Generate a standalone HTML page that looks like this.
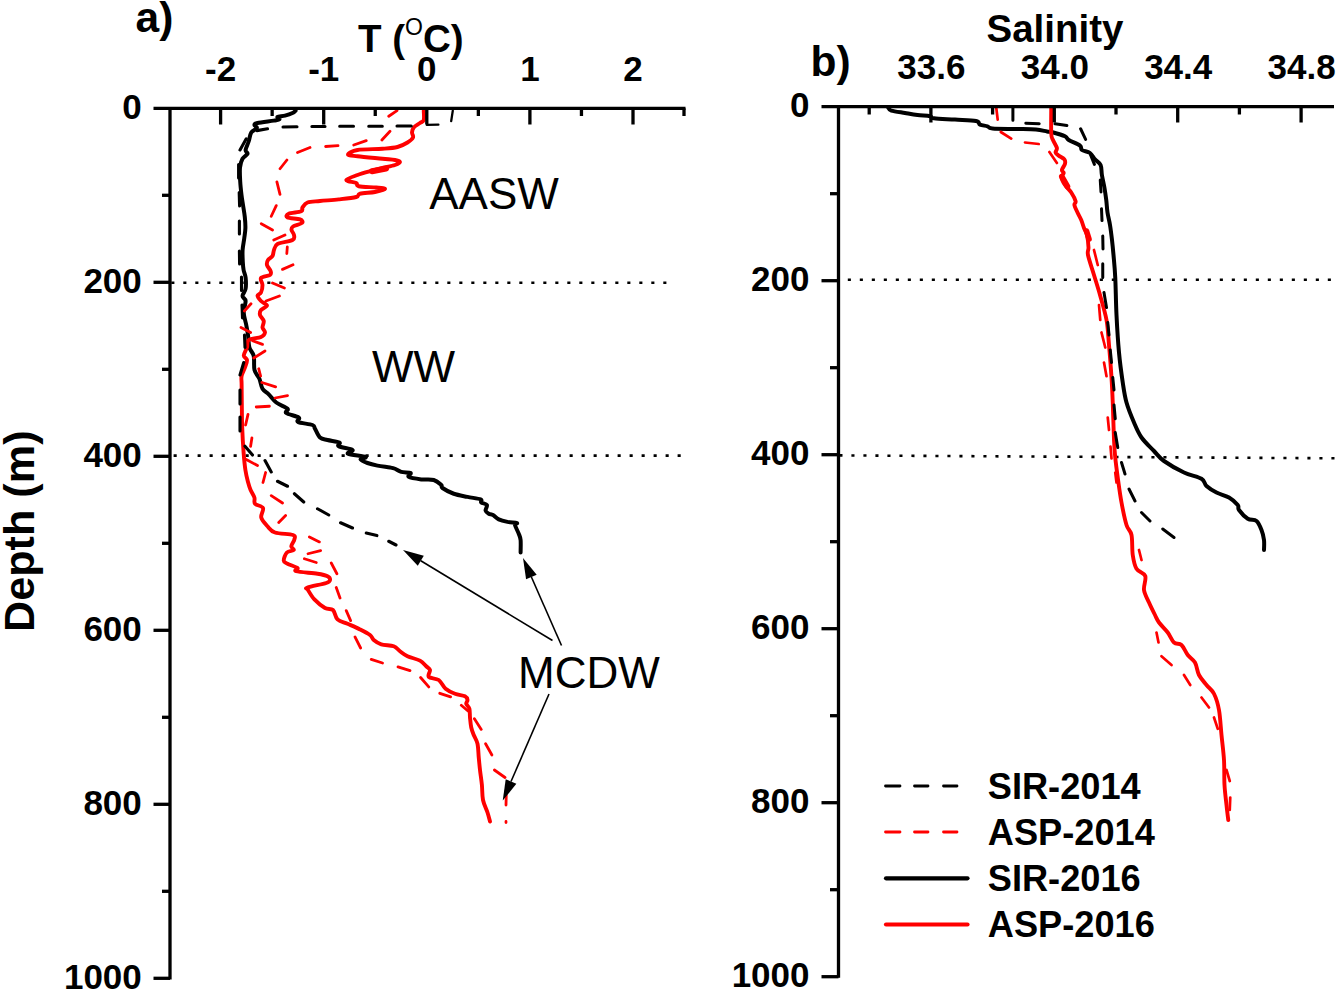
<!DOCTYPE html>
<html><head><meta charset="utf-8"><title>Profiles</title>
<style>html,body{margin:0;padding:0;background:#fff;}svg{display:block;font-family:"Liberation Sans",sans-serif;}.b{font-weight:bold;}</style></head><body>
<svg width="1338" height="992" viewBox="0 0 1338 992">
<rect width="1338" height="992" fill="#fff"/>
<g stroke="#000" stroke-width="2.6" fill="none" stroke-dasharray="3.1 8.9">
<path d="M171.3 282.7 H667"/>
<path d="M173.6 455.6 H681.2"/>
<path d="M847.8 279.8 H1331.3"/>
<path d="M839.4 455.4 L1335 458.3"/>
</g>
<path d="M295.60 110.60C295.08 111.00 294.27 112.17 292.50 113.00C290.73 113.83 287.50 114.93 285.00 115.60C282.50 116.27 278.43 116.37 277.50 117.00C276.57 117.63 280.02 118.80 279.40 119.40C278.77 120.00 277.40 120.00 273.75 120.60C270.10 121.20 260.73 122.27 257.50 123.00C254.28 123.73 254.50 124.17 254.40 125.00C254.30 125.83 257.42 126.75 256.90 128.00C256.38 129.25 252.61 130.29 251.25 132.50C249.89 134.71 249.69 138.33 248.75 141.25C247.81 144.17 245.81 147.92 245.60 150.00C245.39 152.08 248.02 152.29 247.50 153.75C246.98 155.21 243.75 156.46 242.50 158.75C241.25 161.04 240.38 163.75 240.00 167.50C239.62 171.25 239.95 176.67 240.20 181.25C240.45 185.83 241.03 191.04 241.50 195.00C241.97 198.96 242.45 201.33 243.00 205.00C243.55 208.67 244.40 213.17 244.80 217.00C245.20 220.83 245.48 224.50 245.40 228.00C245.32 231.50 244.77 234.33 244.30 238.00C243.83 241.67 242.85 246.00 242.60 250.00C242.35 254.00 242.63 258.67 242.80 262.00C242.97 265.33 243.13 267.42 243.60 270.00C244.07 272.58 245.27 274.38 245.60 277.50C245.93 280.62 246.12 285.67 245.60 288.75C245.08 291.83 242.50 293.96 242.50 296.00C242.50 298.04 245.39 298.25 245.60 301.00C245.81 303.75 243.64 308.50 243.75 312.50C243.86 316.50 245.54 321.25 246.25 325.00C246.96 328.75 247.47 331.25 248.00 335.00C248.53 338.75 248.44 344.00 249.40 347.50C250.36 351.00 252.90 352.25 253.75 356.00C254.60 359.75 253.56 366.21 254.50 370.00C255.44 373.79 258.07 375.62 259.40 378.75C260.73 381.88 260.94 386.14 262.50 388.75C264.06 391.36 266.46 392.11 268.75 394.40C271.04 396.69 273.12 400.11 276.25 402.50C279.38 404.89 285.83 407.00 287.50 408.75C289.17 410.50 284.38 411.54 286.25 413.00C288.12 414.46 296.79 416.00 298.75 417.50C300.71 419.00 295.71 420.75 298.00 422.00C300.29 423.25 309.67 423.88 312.50 425.00C315.33 426.12 313.75 426.67 315.00 428.75C316.25 430.83 317.92 435.62 320.00 437.50C322.08 439.38 324.27 439.17 327.50 440.00C330.73 440.83 337.52 441.46 339.40 442.50C341.27 443.54 336.57 445.00 338.75 446.25C340.93 447.50 350.96 448.75 352.50 450.00C354.04 451.25 345.82 452.60 348.00 453.75C350.18 454.90 363.50 455.96 365.60 456.90C367.70 457.84 360.28 458.38 360.60 459.40C360.92 460.42 364.68 461.97 367.50 463.00C370.32 464.03 373.75 464.85 377.50 465.60C381.25 466.35 387.08 466.98 390.00 467.50C392.92 468.02 393.12 468.02 395.00 468.75C396.88 469.48 398.65 471.19 401.25 471.90C403.85 472.61 409.35 472.17 410.60 473.00C411.85 473.83 406.98 475.83 408.75 476.90C410.52 477.97 417.08 478.88 421.25 479.40C425.42 479.92 430.42 479.07 433.75 480.00C437.08 480.93 439.79 483.67 441.25 485.00C442.71 486.33 440.42 486.54 442.50 488.00C444.58 489.46 449.58 492.27 453.75 493.75C457.92 495.23 463.02 495.96 467.50 496.90C471.98 497.84 478.31 498.47 480.60 499.40C482.89 500.33 480.20 501.57 481.25 502.50C482.30 503.43 486.17 503.65 486.90 505.00C487.62 506.35 485.29 509.14 485.60 510.60C485.91 512.06 487.52 513.02 488.75 513.75C489.98 514.48 491.33 514.06 493.00 515.00C494.67 515.94 496.33 518.25 498.75 519.40C501.17 520.55 504.48 521.30 507.50 521.90C510.52 522.50 515.65 522.48 516.90 523.00C518.15 523.52 514.69 523.21 515.00 525.00C515.31 526.79 517.82 531.25 518.75 533.75C519.68 536.25 520.29 536.88 520.60 540.00C520.91 543.12 520.60 550.42 520.60 552.50" fill="none" stroke="#000" stroke-width="4.0" stroke-linejoin="round" stroke-linecap="round" />
<path d="M423.75 110.60C423.75 112.17 424.38 117.93 423.75 120.00C423.12 122.07 421.67 121.75 420.00 123.00C418.33 124.25 415.08 125.92 413.75 127.50C412.42 129.08 412.12 130.83 412.00 132.50C411.88 134.17 413.75 135.83 413.00 137.50C412.25 139.17 410.08 140.92 407.50 142.50C404.92 144.08 401.67 145.96 397.50 147.00C393.33 148.04 389.17 148.25 382.50 148.75C375.83 149.25 363.25 149.06 357.50 150.00C351.75 150.94 348.00 153.36 348.00 154.40C348.00 155.44 351.75 155.53 357.50 156.25C363.25 156.97 376.25 158.12 382.50 158.75C388.75 159.38 392.08 159.46 395.00 160.00C397.92 160.54 400.00 161.17 400.00 162.00C400.00 162.83 397.92 164.00 395.00 165.00C392.08 166.00 386.25 167.07 382.50 168.00C378.75 168.93 376.67 169.43 372.50 170.60C368.33 171.77 361.88 173.43 357.50 175.00C353.12 176.57 346.46 178.67 346.25 180.00C346.04 181.33 354.17 181.96 356.25 183.00C358.33 184.04 355.42 185.50 358.75 186.25C362.08 187.00 371.88 187.04 376.25 187.50C380.62 187.96 385.21 188.25 385.00 189.00C384.79 189.75 379.17 191.21 375.00 192.00C370.83 192.79 363.12 192.92 360.00 193.75C356.88 194.58 359.79 196.06 356.25 197.00C352.71 197.94 344.79 198.73 338.75 199.40C332.71 200.07 325.21 200.48 320.00 201.00C314.79 201.52 310.42 201.42 307.50 202.50C304.58 203.58 303.54 206.04 302.50 207.50C301.46 208.96 303.54 210.21 301.25 211.25C298.96 212.29 291.04 212.71 288.75 213.75C286.46 214.79 285.62 216.56 287.50 217.50C289.38 218.44 297.58 218.48 300.00 219.40C302.42 220.32 303.17 221.82 302.00 223.00C300.83 224.18 294.75 225.33 293.00 226.50C291.25 227.67 291.33 228.58 291.50 230.00C291.67 231.42 293.83 233.33 294.00 235.00C294.17 236.67 295.25 238.50 292.50 240.00C289.75 241.50 280.58 242.33 277.50 244.00C274.42 245.67 274.83 248.00 274.00 250.00C273.17 252.00 273.50 254.33 272.50 256.00C271.50 257.67 268.92 258.50 268.00 260.00C267.08 261.50 266.57 263.17 267.00 265.00C267.43 266.83 270.10 269.33 270.60 271.00C271.10 272.67 271.60 273.83 270.00 275.00C268.40 276.17 262.25 276.33 261.00 278.00C259.75 279.67 262.50 282.58 262.50 285.00C262.50 287.42 261.83 290.73 261.00 292.50C260.17 294.27 257.50 294.18 257.50 295.60C257.50 297.02 259.42 299.33 261.00 301.00C262.58 302.67 267.00 304.10 267.00 305.60C267.00 307.10 262.17 308.43 261.00 310.00C259.83 311.57 259.54 313.17 260.00 315.00C260.46 316.83 263.33 318.92 263.75 321.00C264.17 323.08 262.29 325.58 262.50 327.50C262.71 329.42 265.25 330.92 265.00 332.50C264.75 334.08 263.71 335.75 261.00 337.00C258.29 338.25 251.08 338.25 248.75 340.00C246.42 341.75 247.83 344.90 247.00 347.50C246.17 350.10 243.75 353.52 243.75 355.60C243.75 357.68 246.79 358.02 247.00 360.00C247.21 361.98 245.90 364.83 245.00 367.50C244.10 370.17 242.17 373.29 241.60 376.00C241.03 378.71 241.57 379.33 241.60 383.75C241.63 388.17 241.70 395.21 241.80 402.50C241.90 409.79 241.90 419.17 242.20 427.50C242.50 435.83 243.07 445.42 243.60 452.50C244.13 459.58 244.67 465.08 245.40 470.00C246.13 474.92 247.13 478.67 248.00 482.00C248.87 485.33 249.53 487.42 250.60 490.00C251.67 492.58 253.67 495.21 254.40 497.50C255.13 499.79 253.57 502.00 255.00 503.75C256.43 505.50 261.96 505.71 263.00 508.00C264.04 510.29 260.50 514.46 261.25 517.50C262.00 520.54 265.21 523.75 267.50 526.25C269.79 528.75 270.75 531.04 275.00 532.50C279.25 533.96 289.77 533.85 293.00 535.00C296.23 536.15 294.69 537.52 294.40 539.40C294.11 541.27 291.36 544.48 291.25 546.25C291.14 548.02 294.48 548.96 293.75 550.00C293.02 551.04 288.57 550.73 286.90 552.50C285.23 554.27 283.65 558.73 283.75 560.60C283.85 562.48 285.21 562.52 287.50 563.75C289.79 564.98 296.04 566.75 297.50 568.00C298.96 569.25 292.92 570.29 296.25 571.25C299.58 572.21 312.29 572.92 317.50 573.75C322.71 574.58 325.42 575.21 327.50 576.25C329.58 577.29 330.21 578.88 330.00 580.00C329.79 581.12 330.00 581.75 326.25 583.00C322.50 584.25 310.54 586.33 307.50 587.50C304.46 588.67 306.85 588.02 308.00 590.00C309.15 591.98 311.57 596.40 314.40 599.40C317.23 602.40 321.90 606.23 325.00 608.00C328.10 609.77 330.92 608.10 333.00 610.00C335.08 611.90 335.08 617.11 337.50 619.40C339.92 621.69 343.75 622.08 347.50 623.75C351.25 625.42 356.25 627.52 360.00 629.40C363.75 631.27 367.71 633.23 370.00 635.00C372.29 636.77 371.88 638.43 373.75 640.00C375.62 641.57 377.92 643.36 381.25 644.40C384.58 645.44 390.62 645.11 393.75 646.25C396.88 647.39 397.71 649.58 400.00 651.25C402.29 652.92 404.17 654.69 407.50 656.25C410.83 657.81 416.88 658.93 420.00 660.60C423.12 662.27 424.58 664.68 426.25 666.25C427.92 667.82 429.58 668.23 430.00 670.00C430.42 671.77 427.29 675.23 428.75 676.90C430.21 678.57 435.94 678.02 438.75 680.00C441.56 681.98 442.89 686.46 445.60 688.75C448.31 691.04 451.77 692.50 455.00 693.75C458.23 695.00 462.92 695.21 465.00 696.25C467.08 697.29 467.29 698.75 467.50 700.00C467.71 701.25 465.93 702.29 466.25 703.75C466.57 705.21 468.77 706.46 469.40 708.75C470.02 711.04 469.69 714.38 470.00 717.50C470.31 720.62 470.62 724.58 471.25 727.50C471.88 730.42 472.71 732.29 473.75 735.00C474.79 737.71 476.67 740.00 477.50 743.75C478.33 747.50 478.33 753.12 478.75 757.50C479.17 761.88 479.48 765.42 480.00 770.00C480.52 774.58 481.40 780.00 481.90 785.00C482.40 790.00 482.07 795.42 483.00 800.00C483.93 804.58 486.33 808.92 487.50 812.50C488.67 816.08 489.58 820.00 490.00 821.50" fill="none" stroke="#ff0000" stroke-width="3.9" stroke-linejoin="round" stroke-linecap="round" />
<path d="M372 171.2 L386 168.6" fill="none" stroke="#ff0000" stroke-width="6" stroke-linejoin="round" stroke-linecap="round" />
<path d="M411.25 126L397 126 M382.3 126.2L368.75 126.2 M353.5 126.3L339.7 126.3 M325 126.5L311.9 126.5 M297 126.8L283 127 M267.5 128.75L256.9 130.6 M246.25 138.75L240 150 M238.6 164.5L238.6 178 M239.2 192.5L239.6 206 M239.4 221L239.4 234 M239.4 251L239.6 264 M241.5 277L241.5 290.5 M242 305L242.5 318 M244.5 335L245 347.5 M243.75 362.5L240 375 M240 390L240 404 M240 417L240 431 M245 446.25L252.5 455 M265 460.6L271.25 472 M277.5 481.25L287.5 486.25 M294.4 493.75L303.75 502 M317.5 508.75L328.75 515 M340.6 522.75L352.5 528 M366.25 533L376.9 535.6 M388.75 541.25L396 545" fill="none" stroke="#000" stroke-width="3.1" stroke-linecap="round"/>
<path d="M452.8 110.6L451.2 121.2 M438.4 124.7L426.8 124.9" fill="none" stroke="#000" stroke-width="2.3" stroke-linecap="round"/>
<path d="M397 110.6L388.75 116.25 M390 131.25L381.9 140 M366.25 140.6L353.75 145 M338 145.6L325.6 146.5 M310 147.5L297.5 152.5 M286.9 160L280 168.75 M276.9 181.9L280 194.4 M276.25 205.6L271.25 216.25 M261.25 223.75L272.5 230 M285 235L273.75 240 M287.3 247L286.8 253.5 M293 264.75L282.5 269.4 M272.5 283L284.4 288 M279.4 296L266 301 M251 303.75L244.4 311 M241 327.5L250.6 332.5 M252.5 340.6L262.5 344.4 M265 351L253.75 358 M258.75 368.75L260.6 376 M261.9 382.5L275.6 386.9 M287.5 395.6L275 398 M269.4 406.25L256.25 407 M248 414.4L245.6 425 M251.9 438L250.6 446.25 M246.25 459.4L257.5 465.6 M265.6 472.5L263 482.5 M271.25 495.6L282.5 503 M285.6 515.6L278.75 522.5 M309.4 536.9L319.4 541.9 M320.6 550.6L308 553.75 M304.4 558.75L316.25 562.5 M331.25 563L336.9 573.75 M336.25 587.5L340 598 M346.25 610.6L350.6 620.6 M355 636.9L360.6 648 M371.25 659.4L382.5 663 M398 666.9L410 670.6 M420.6 677.5L428.75 686.9 M439.8 693.3L450.6 696.9 M461.25 705.3L468 711 M474.4 718.75L481.25 729.4 M485.6 743.75L491.9 755 M494.4 770L505 777.5 M506.25 795L506 805 M506 821.5L506 822.5" fill="none" stroke="#ff0000" stroke-width="2.8" stroke-linecap="round"/>
<path d="M888.30 107.80C888.80 108.27 888.52 109.73 891.30 110.60C894.08 111.47 900.63 112.27 905.00 113.00C909.37 113.73 913.33 114.47 917.50 115.00C921.67 115.53 927.25 115.65 930.00 116.20C932.75 116.75 929.83 117.73 934.00 118.30C938.17 118.87 948.00 119.15 955.00 119.60C962.00 120.05 971.83 120.17 976.00 121.00C980.17 121.83 978.08 123.72 980.00 124.60C981.92 125.48 985.42 125.65 987.50 126.30C989.58 126.95 987.50 128.05 992.50 128.50C997.50 128.95 1010.25 128.82 1017.50 129.00C1024.75 129.18 1031.08 129.20 1036.00 129.60C1040.92 130.00 1044.25 130.97 1047.00 131.40C1049.75 131.83 1049.50 131.39 1052.50 132.20C1055.50 133.01 1062.29 134.95 1065.00 136.25C1067.71 137.55 1066.25 138.44 1068.75 140.00C1071.25 141.56 1077.81 143.93 1080.00 145.60C1082.19 147.27 1080.23 148.77 1081.90 150.00C1083.57 151.23 1087.82 151.43 1090.00 153.00C1092.18 154.57 1093.23 157.40 1095.00 159.40C1096.77 161.40 1099.45 162.40 1100.60 165.00C1101.75 167.60 1101.27 171.25 1101.90 175.00C1102.53 178.75 1103.68 183.33 1104.40 187.50C1105.12 191.67 1105.73 195.83 1106.25 200.00C1106.77 204.17 1106.88 208.33 1107.50 212.50C1108.12 216.67 1109.25 220.42 1110.00 225.00C1110.75 229.58 1111.42 235.00 1112.00 240.00C1112.58 245.00 1112.96 248.75 1113.50 255.00C1114.04 261.25 1114.75 267.50 1115.25 277.50C1115.75 287.50 1115.88 302.50 1116.50 315.00C1117.12 327.50 1117.96 341.25 1119.00 352.50C1120.04 363.75 1121.50 374.17 1122.75 382.50C1124.00 390.83 1124.62 395.83 1126.50 402.50C1128.38 409.17 1131.50 416.67 1134.00 422.50C1136.50 428.33 1138.17 432.75 1141.50 437.50C1144.83 442.25 1150.25 447.08 1154.00 451.00C1157.75 454.92 1159.00 457.42 1164.00 461.00C1169.00 464.58 1177.75 469.54 1184.00 472.50C1190.25 475.46 1197.75 476.50 1201.50 478.75C1205.25 481.00 1204.00 483.71 1206.50 486.00C1209.00 488.29 1212.75 490.58 1216.50 492.50C1220.25 494.42 1225.46 495.42 1229.00 497.50C1232.54 499.58 1236.08 502.92 1237.75 505.00C1239.42 507.08 1237.33 507.71 1239.00 510.00C1240.67 512.29 1244.83 516.92 1247.75 518.75C1250.67 520.58 1254.21 519.12 1256.50 521.00C1258.79 522.88 1260.25 526.83 1261.50 530.00C1262.75 533.17 1263.58 536.67 1264.00 540.00C1264.42 543.33 1264.00 548.33 1264.00 550.00" fill="none" stroke="#000" stroke-width="4.0" stroke-linejoin="round" stroke-linecap="round" />
<path d="M1051.25 107.50C1051.25 111.88 1050.96 128.33 1051.25 133.75C1051.54 139.17 1052.06 137.62 1053.00 140.00C1053.94 142.38 1056.47 145.92 1056.90 148.00C1057.33 150.08 1055.29 151.23 1055.60 152.50C1055.91 153.77 1057.28 154.45 1058.75 155.60C1060.22 156.75 1063.36 158.04 1064.40 159.40C1065.44 160.76 1065.42 161.98 1065.00 163.75C1064.58 165.52 1062.11 168.46 1061.90 170.00C1061.69 171.54 1063.82 171.75 1063.75 173.00C1063.68 174.25 1061.29 175.50 1061.50 177.50C1061.71 179.50 1063.38 182.50 1065.00 185.00C1066.62 187.50 1069.48 189.79 1071.25 192.50C1073.02 195.21 1075.07 199.17 1075.60 201.25C1076.12 203.33 1074.08 203.12 1074.40 205.00C1074.72 206.88 1076.36 210.00 1077.50 212.50C1078.64 215.00 1080.17 217.42 1081.25 220.00C1082.33 222.58 1083.04 225.50 1084.00 228.00C1084.96 230.50 1086.25 231.75 1087.00 235.00C1087.75 238.25 1088.33 244.17 1088.50 247.50C1088.67 250.83 1087.08 250.42 1088.00 255.00C1088.92 259.58 1092.00 268.33 1094.00 275.00C1096.00 281.67 1097.92 287.50 1100.00 295.00C1102.08 302.50 1105.00 311.67 1106.50 320.00C1108.00 328.33 1108.17 335.42 1109.00 345.00C1109.83 354.58 1110.88 367.92 1111.50 377.50C1112.12 387.08 1112.33 392.08 1112.75 402.50C1113.17 412.92 1113.58 430.83 1114.00 440.00C1114.42 449.17 1114.62 451.25 1115.25 457.50C1115.88 463.75 1116.71 470.00 1117.75 477.50C1118.79 485.00 1120.04 494.58 1121.50 502.50C1122.96 510.42 1124.83 519.58 1126.50 525.00C1128.17 530.42 1130.46 530.00 1131.50 535.00C1132.54 540.00 1131.92 549.38 1132.75 555.00C1133.58 560.62 1134.42 565.25 1136.50 568.75C1138.58 572.25 1144.00 572.46 1145.25 576.00C1146.50 579.54 1143.38 585.58 1144.00 590.00C1144.62 594.42 1147.17 598.33 1149.00 602.50C1150.83 606.67 1153.33 611.67 1155.00 615.00C1156.67 618.33 1156.88 619.58 1159.00 622.50C1161.12 625.42 1165.25 629.17 1167.75 632.50C1170.25 635.83 1171.71 640.42 1174.00 642.50C1176.29 644.58 1179.21 642.92 1181.50 645.00C1183.79 647.08 1185.50 652.08 1187.75 655.00C1190.00 657.92 1193.12 659.17 1195.00 662.50C1196.88 665.83 1197.08 671.25 1199.00 675.00C1200.92 678.75 1204.00 681.88 1206.50 685.00C1209.00 688.12 1211.92 689.58 1214.00 693.75C1216.08 697.92 1217.75 703.12 1219.00 710.00C1220.25 716.88 1220.67 726.67 1221.50 735.00C1222.33 743.33 1223.50 751.67 1224.00 760.00C1224.50 768.33 1224.08 777.50 1224.50 785.00C1224.92 792.50 1225.88 799.17 1226.50 805.00C1227.12 810.83 1227.96 817.50 1228.25 820.00" fill="none" stroke="#ff0000" stroke-width="3.9" stroke-linejoin="round" stroke-linecap="round" />
<path d="M1061.8 176.5 L1067.5 186.5" fill="none" stroke="#ff0000" stroke-width="5.6" stroke-linejoin="round" stroke-linecap="round" />
<path d="M1086.5 231 L1089 239" fill="none" stroke="#ff0000" stroke-width="5.6" stroke-linejoin="round" stroke-linecap="round" />
<path d="M1012.9 108L1012.9 120.2 M1025.8 123.3L1039.2 123.7 M1055 123.75L1066.9 125.6 M1080.6 128.75L1085.6 139.4 M1090.6 155L1094.4 164.4 M1100.25 180L1101 192 M1101.5 208.75L1102 220.6 M1102.75 236L1103 249 M1102.75 263.75L1102.75 277.5 M1104 292.5L1106.5 307.5 M1107.75 322.5L1109 335 M1110.25 350L1111.5 362.5 M1112.75 377.5L1114 390 M1114 405L1115.25 418.75 M1115.25 432.5L1117.75 447.5 M1121.5 462.5L1125 474 M1129 489L1135 501 M1141.5 512.5L1150 521 M1162.75 529L1174 537.5" fill="none" stroke="#000" stroke-width="3.0" stroke-linecap="round"/>
<path d="M996.3 108L997.7 119.6 M1000.8 132L1011.2 138.6 M1025 142.5L1038.75 144 M1049.4 152L1056.9 163 M1094 250L1097.75 265 M1099 305L1100.25 320 M1101.5 332.5L1105.25 347.5 M1104 362.5L1106.5 376.25 M1107.75 417.5L1109 430 M1110.5 446.5L1111.5 458.5 M1115.25 472.5L1116.5 482.5 M1139 550L1141.5 560 M1156.5 632.5L1158.5 642.5 M1161.5 656.25L1171.5 665 M1184 675L1190.25 685 M1201.5 697.5L1209 707.5 M1214 717.5L1217.75 728.75 M1226.5 770L1229.75 781 M1230.25 797.5L1229.75 810" fill="none" stroke="#ff0000" stroke-width="2.7" stroke-linecap="round"/>
<g stroke="#000" stroke-width="3.3" fill="none">
<path d="M153.5 108.3 H685.5"/>
<path d="M170 108.3 V979.5"/>
<path d="M220.6 108.3 V124.5"/>
<path d="M323.7 108.3 V124.5"/>
<path d="M426.8 108.3 V124.5"/>
<path d="M529.9 108.3 V124.5"/>
<path d="M633 108.3 V124.5"/>
<path d="M272.15 108.3 V116"/>
<path d="M375.25 108.3 V116"/>
<path d="M478.35 108.3 V116"/>
<path d="M581.45 108.3 V116"/>
<path d="M684 108.3 V116"/>
<path d="M153.5 282.3 H170"/>
<path d="M153.5 456.3 H170"/>
<path d="M153.5 630.3 H170"/>
<path d="M153.5 804.3 H170"/>
<path d="M153.5 978.3 H170"/>
<path d="M162 195.3 H170"/>
<path d="M162 369.3 H170"/>
<path d="M162 543.3 H170"/>
<path d="M162 717.3 H170"/>
<path d="M162 891.3 H170"/>
</g>
<g stroke="#000" stroke-width="3.3" fill="none">
<path d="M821.5 106.7 H1334"/>
<path d="M838.5 106.7 V977.8"/>
<path d="M930.9 106.7 V122.5"/>
<path d="M1054.3 106.7 V122.5"/>
<path d="M1177.7 106.7 V122.5"/>
<path d="M1301.1 106.7 V122.5"/>
<path d="M869.2 106.7 V114.5"/>
<path d="M992.6 106.7 V114.5"/>
<path d="M1116 106.7 V114.5"/>
<path d="M1239.4 106.7 V114.5"/>
<path d="M821.5 280.7 H838.5"/>
<path d="M821.5 454.7 H838.5"/>
<path d="M821.5 628.7 H838.5"/>
<path d="M821.5 802.7 H838.5"/>
<path d="M821.5 976.7 H838.5"/>
<path d="M830 193.7 H838.5"/>
<path d="M830 367.7 H838.5"/>
<path d="M830 541.7 H838.5"/>
<path d="M830 715.7 H838.5"/>
<path d="M830 889.7 H838.5"/>
</g>
<g class="b" font-size="35" fill="#000">
<text x="220.6" y="81.3" font-size="35" text-anchor="middle">-2</text>
<text x="323.7" y="81.3" font-size="35" text-anchor="middle">-1</text>
<text x="426.8" y="81.3" font-size="35" text-anchor="middle">0</text>
<text x="529.9" y="81.3" font-size="35" text-anchor="middle">1</text>
<text x="633" y="81.3" font-size="35" text-anchor="middle">2</text>
<text x="141.8" y="118.9" text-anchor="end">0</text>
<text x="141.8" y="292.9" text-anchor="end">200</text>
<text x="141.8" y="466.9" text-anchor="end">400</text>
<text x="141.8" y="640.9" text-anchor="end">600</text>
<text x="141.8" y="814.9" text-anchor="end">800</text>
<text x="141.8" y="988.9" text-anchor="end">1000</text>
<text x="931.4" y="79" font-size="35" text-anchor="middle">33.6</text>
<text x="1054.8" y="79" font-size="35" text-anchor="middle">34.0</text>
<text x="1178.2" y="79" font-size="35" text-anchor="middle">34.4</text>
<text x="1301.6" y="79" font-size="35" text-anchor="middle">34.8</text>
<text x="809.5" y="117" text-anchor="end">0</text>
<text x="809.5" y="291" text-anchor="end">200</text>
<text x="809.5" y="465" text-anchor="end">400</text>
<text x="809.5" y="639" text-anchor="end">600</text>
<text x="809.5" y="813" text-anchor="end">800</text>
<text x="809.5" y="987" text-anchor="end">1000</text>
</g>
<g class="b" fill="#000">
<text x="135.5" y="32.3" font-size="42.5">a)</text>
<text x="810.5" y="75.8" font-size="42.5">b)</text>
<text x="358" y="51.5" font-size="38.5">T (<tspan font-size="23" font-weight="normal" dy="-16.4">O</tspan><tspan dy="16.4">C)</tspan></text>
<text x="986.5" y="41.5" font-size="38.5">Salinity</text>
<text transform="translate(33.8 632) rotate(-90)" font-size="43.2">Depth (m)</text>
</g>
<g fill="#000" font-size="44">
<text x="429.2" y="209.3">AASW</text>
<text x="372" y="382">WW</text>
<text x="518" y="687.5">MCDW</text>
</g>
<path d="M552.5 640.5 L420.794 560.771" stroke="#000" stroke-width="1.6" fill="none"/>
<path d="M403 550 L423.797 555.81 L417.79 565.733 Z" fill="#000"/>
<path d="M561.5 645.5 L531.377 577.039" stroke="#000" stroke-width="1.6" fill="none"/>
<path d="M523 558 L536.686 574.703 L526.068 579.374 Z" fill="#000"/>
<path d="M549 694 L511.029 781.519" stroke="#000" stroke-width="1.6" fill="none"/>
<path d="M502.75 800.6 L505.708 779.21 L516.35 783.827 Z" fill="#000"/>
<g fill="none" stroke-linecap="round">
<path d="M885.5 786 H900 M914.5 786 H928 M943.5 786 H957" stroke="#000" stroke-width="2.8"/>
<path d="M885.5 832 H900 M914.5 832 H928 M943.5 832 H957" stroke="#ff0000" stroke-width="2.8"/>
<path d="M886 878.3 H967.5" stroke="#000" stroke-width="4.2"/>
<path d="M886 924.5 H967.5" stroke="#ff0000" stroke-width="4.2"/>
</g>
<g class="b" font-size="36.2" fill="#000">
<text x="987.8" y="798.6">SIR-2014</text>
<text x="987.8" y="844.6">ASP-2014</text>
<text x="987.8" y="890.6">SIR-2016</text>
<text x="987.8" y="936.6">ASP-2016</text>
</g>
</svg></body></html>
